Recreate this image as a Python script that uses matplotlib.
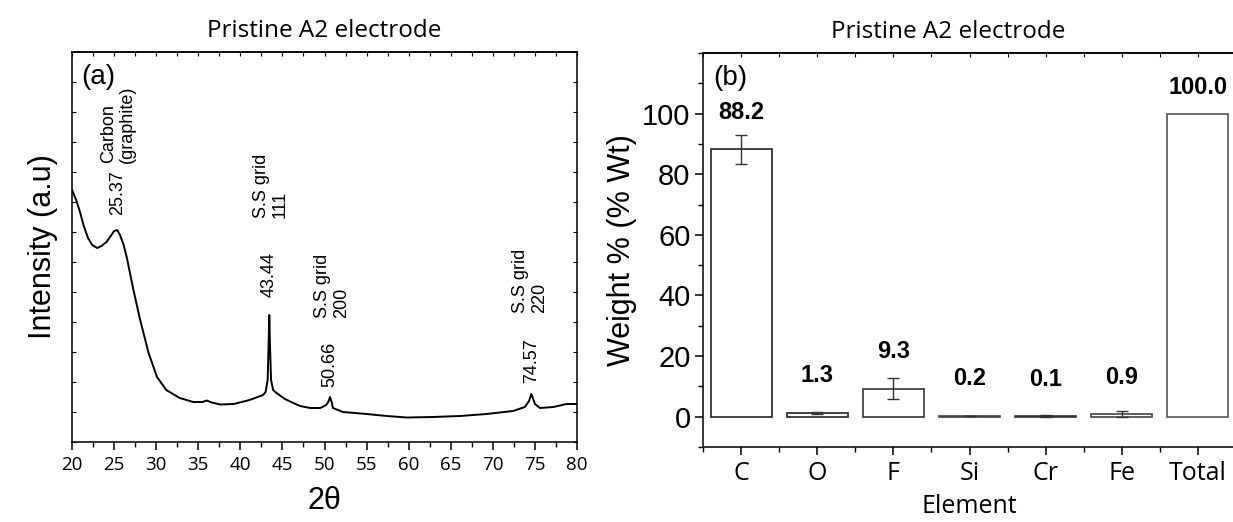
import matplotlib
matplotlib.use("Agg")
import matplotlib.pyplot as plt
from matplotlib.ticker import MultipleLocator, FixedLocator, NullFormatter

# ---------------- data ----------------
two_theta = [20.0, 20.5, 20.95, 21.4, 21.9, 22.4, 23.0, 23.5, 24.1, 24.6, 25.0, 25.37, 25.7, 26.1,
             26.5, 27.3, 28.1, 29.1, 30.1, 31.2, 32.8, 34.4, 35.5, 36.0, 36.6, 37.6, 39.2,
             41.1, 42.7, 43.0, 43.25, 43.35, 43.44, 43.53, 43.65, 43.9, 44.3, 45.3, 46.3,
             47.1, 48.3, 49.5, 50.2, 50.45, 50.66, 50.85, 51.0, 52.2, 55.0, 57.4, 59.75,
             62.9, 66.1, 69.25, 72.4, 73.8, 74.3, 74.57, 74.8, 75.0, 75.6, 77.2, 78.75, 79.9, 80.0]
intensity = [252, 242, 230, 216, 204, 197, 194, 196, 200, 206, 211, 212, 207, 198,
             185, 152, 122, 89, 65, 52, 44, 40, 40, 41.5, 39.5, 37.5, 38,
             42, 47, 50, 62, 95, 127, 95, 62, 52, 49, 43, 39,
             36, 34, 34, 37, 40, 45, 40, 34, 30, 28, 26, 24.5,
             25, 26, 28, 31, 35, 41, 48, 43, 38, 34, 35, 38, 38, 38]

peak_labels = ["25.37", "43.44", "50.66", "74.57"]
peak_pos = [25.37, 43.44, 50.66, 74.57]
peak_label_y = [227, 145, 55, 59]
phase_labels = ["Carbon\n(graphite)", "S.S grid\n111", "S.S grid\n200", "S.S grid\n220"]
phase_pos = [25.45, 43.6, 50.9, 74.45]
phase_label_y = [279, 224, 124, 129]

elements = ["C", "O", "F", "Si", "Cr", "Fe", "Total"]
weight = [88.2, 1.3, 9.3, 0.2, 0.1, 0.9, 100.0]
weight_err = [4.7, 0.3, 3.6, 0.1, 0.3, 0.9, 0.0]
label_offset = [8.4, 8.4, 8.3, 8.5, 8.5, 8.4, 4.8]

ARIAL = ["Liberation Sans", "DejaVu Sans"]
HUMAN = ["Open Sans", "DejaVu Sans"]

fig = plt.figure(figsize=(12.33, 5.22), dpi=100)

# ---------------- panel (a) ----------------
W, H = 1233.0, 522.0
axa = fig.add_axes([72 / W, 1 - 442 / H, 505 / W, 390 / H])
axa.plot(two_theta, intensity, color="black", lw=1.4)
axa.set_xlim(20, 80)
axa.set_ylim(0, 390)
axa.xaxis.set_major_locator(MultipleLocator(5))
axa.xaxis.set_minor_locator(MultipleLocator(2.5))
axa.yaxis.set_major_locator(MultipleLocator(30))
axa.yaxis.set_major_formatter(NullFormatter())
axa.tick_params(axis="x", which="major", direction="out", length=6, width=1.1,
                top=False, labelsize=13.5, pad=4)
axa.tick_params(axis="x", which="minor", direction="out", length=3.5, width=1.0, top=False)
axa.tick_params(axis="y", which="major", direction="in", length=3, width=0.8,
                left=True, right=True, labelleft=False)
for lab in axa.get_xticklabels():
    lab.set_family(HUMAN)
axt = axa.secondary_xaxis("top")
axt.xaxis.set_major_locator(MultipleLocator(2.5))
axt.tick_params(direction="in", length=3, width=0.8, labeltop=False)
for sp in axa.spines.values():
    sp.set_linewidth(1.1)
axt.spines["top"].set_linewidth(1.1)

for t, x, y in zip(peak_labels, peak_pos, peak_label_y):
    axa.text(x, y, t, rotation=90, ha="center", va="bottom", fontsize=13, family=ARIAL)
for t, x, y in zip(phase_labels, phase_pos, phase_label_y):
    axa.text(x, y, t, rotation=90, ha="center", va="bottom", fontsize=13, family=ARIAL,
             multialignment="left", linespacing=1.15)
axa.text(0.018, 0.97, "(a)", transform=axa.transAxes, ha="left", va="top",
         fontsize=20, family=ARIAL)
axa.set_xlabel("2θ", fontsize=22, family=ARIAL, labelpad=9)
axa.set_ylabel("Intensity (a.u)", fontsize=22, family=ARIAL, labelpad=10)
axa.set_title("Pristine A2 electrode", fontsize=17.5, family=HUMAN, pad=11)

# ---------------- panel (b) ----------------
axb = fig.add_axes([703 / W, 1 - 447 / H, 533 / W, 394 / H])
xpos = list(range(len(elements)))
edge_cols = ["#222222", "#222222", "#333333", "#444444", "#333333", "#444444", "#555555"]
axb.bar(xpos, weight, width=0.8, color="white", edgecolor=edge_cols, linewidth=1.2, zorder=2)
axb.errorbar(xpos[:-1], weight[:-1], yerr=weight_err[:-1], fmt="none", ecolor="#333333",
             elinewidth=1.0, capsize=4, capthick=1.0, zorder=3)
for x, v, o in zip(xpos, weight, label_offset):
    axb.text(x, v + o, f"{v:.1f}", ha="center", va="bottom", fontsize=17,
             fontweight="bold", family=ARIAL)
axb.set_xlim(-0.5, 6.5)
axb.set_ylim(-10, 120)
axb.set_xticks(xpos)
axb.set_xticklabels(elements)
axb.xaxis.set_minor_locator(FixedLocator([p + 0.5 for p in [-1] + xpos]))
axb.yaxis.set_major_locator(FixedLocator([0, 20, 40, 60, 80, 100]))
axb.yaxis.set_minor_locator(MultipleLocator(10))
axb.tick_params(axis="x", which="major", direction="out", length=6, width=1.1,
                labelsize=18, pad=4)
axb.tick_params(axis="x", which="minor", direction="out", length=3.5, width=1.0)
axb.tick_params(axis="y", which="major", direction="out", length=6, width=1.1,
                labelsize=21, pad=3)
axb.tick_params(axis="y", which="minor", direction="out", length=3.5, width=1.0)
for lab in axb.get_xticklabels():
    lab.set_family(HUMAN)
for lab in axb.get_yticklabels():
    lab.set_family(ARIAL)
axbt = axb.secondary_xaxis("top")
axbt.xaxis.set_major_locator(MultipleLocator(0.5))
axbt.tick_params(direction="in", length=3, width=0.8, labeltop=False)
for sp in axb.spines.values():
    sp.set_linewidth(1.1)
axbt.spines["top"].set_linewidth(1.1)
axb.text(0.02, 0.97, "(b)", transform=axb.transAxes, ha="left", va="top",
         fontsize=20, family=ARIAL)
axb.set_xlabel("Element", fontsize=18, family=HUMAN, labelpad=6)
axb.set_ylabel("Weight % (% Wt)", fontsize=22, family=ARIAL, labelpad=4)
axb.set_title("Pristine A2 electrode", fontsize=17.5, family=HUMAN, pad=11, x=0.46)

fig.savefig("out.png", dpi=100)
